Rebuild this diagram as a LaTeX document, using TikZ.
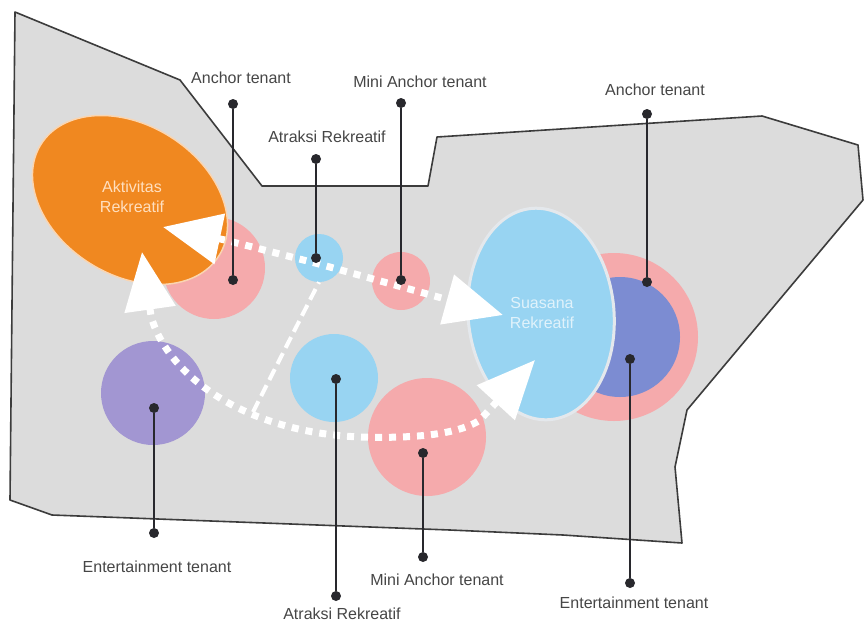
\documentclass[tikz,border=0pt]{standalone}
\usepackage{fontspec}
\setmainfont{Liberation Sans}
\usetikzlibrary{shapes.geometric, arrows.meta}
\definecolor{site}{RGB}{220,220,220}
\definecolor{edge}{RGB}{60,60,60}
\definecolor{oranye}{RGB}{240,136,32}
\definecolor{pinky}{RGB}{245,170,172}
\definecolor{skyblue}{RGB}{152,212,242}
\definecolor{ungu}{RGB}{162,150,210}
\definecolor{biru}{RGB}{124,140,210}
\definecolor{ink}{RGB}{40,40,45}
\definecolor{labelgray}{RGB}{70,70,70}
\definecolor{halo}{RGB}{228,232,236}
\tikzset{
x=1pt, y=-1pt, % pixel-like units, y grows downwards
zone/.style={circle, inner sep=0pt}, % the coloured zones
pin/.style={circle, fill=ink, inner sep=0pt, minimum size=10pt}, % the black dots
lead/.style={ink, line width=1.6pt}, % leader lines
tag/.style={text=labelgray, font=\fontsize{16}{19}\selectfont}, % outside labels
intag/.style={align=center, font=\fontsize{16}{20}\selectfont}, % labels inside the big zones
flow/.style={white, line width=7pt, dash pattern=on 7pt off 7pt,
  {Triangle[length=58pt,width=50pt]}-{Triangle[length=58pt,width=50pt]}}, % dotted circulation
branch/.style={white, line width=4pt, dash pattern=on 12pt off 6pt}, % dashed link
}

\begin{document}
\begin{tikzpicture}
    \fill[white] (0,0) rectangle (864,625);
    \useasboundingbox (0,0) rectangle (864,625);
    % site outline
    \draw[fill=site, draw=edge, line width=1.6pt, line join=round]
      (15,12) -- (180,80) -- (262,186) -- (428,186) -- (437,137) -- (762,116)
      -- (858,145) -- (863,200) -- (687,410) -- (675,467) -- (682,543)
      -- (563,535) -- (450,530) -- (52,515) -- (10,500) -- cycle;

    % zones
    \node[zone, fill=pinky, minimum size=168pt] (ring) at (614,337) {};
    \node[zone, fill=biru, minimum size=120pt] (anc2) at (620,337) {};
    \node[ellipse, fill=skyblue, draw=halo, line width=3pt,
      minimum width=146pt, minimum height=212pt, rotate=5] (suasana) at (541,314) {};
    \node[zone, fill=pinky, minimum size=102pt] (anc1) at (214,268) {};
    \node[ellipse, fill=oranye, draw=oranye!35!white, line width=1.5pt,
      minimum width=210pt, minimum height=150pt, rotate=-32] (aktiv) at (130,200) {};
    \node[zone, fill=ungu, minimum size=104pt] (ent1) at (153,393) {};
    \node[zone, fill=skyblue, minimum size=48pt] (atr1) at (319,258) {};
    \node[zone, fill=pinky, minimum size=58pt] (mini1) at (401,281) {};
    \node[zone, fill=skyblue, minimum size=88pt] (atr2) at (334,378) {};
    \node[zone, fill=pinky, minimum size=118pt] (mini2) at (427,437) {};

    \node[intag, text=orange!25!white] (aktivtxt) at (132,197) {Aktivitas\\Rekreatif};
    \node[intag, text=skyblue!30!white] (suasanatxt) at (542,313) {Suasana\\Rekreatif};

    % circulation
    \coordinate (tipA) at (163,227);
    \coordinate (tipB) at (503,315);
    \coordinate (tipC) at (142,252);
    \coordinate (tipD) at (535,360);
    \coordinate (fork) at (253,412);
    \draw[branch] (fork) -- (atr1.south);
    \draw[flow] (tipA) -- (225,240) -- (319,264) -- (tipB);
    \draw[flow] (tipC) -- (151,316) .. controls (166,372) and (240,432) .. (360,437)
      .. controls (425,439) and (462,432) .. (480,420) -- (tipD);

    % leaders
    \node[pin] (p1) at (233,104) {};
    \node[pin] (q1) at (233,280) {};
    \node[pin] (p2) at (316,159) {};
    \node[pin] (q2) at (316,258) {};
    \node[pin] (p3) at (401,103) {};
    \node[pin] (q3) at (401,280) {};
    \node[pin] (p4) at (647,114) {};
    \node[pin] (q4) at (647,282) {};
    \node[pin] (p5) at (154,533) {};
    \node[pin] (q5) at (154,408) {};
    \node[pin] (p6) at (336,596) {};
    \node[pin] (q6) at (336,379) {};
    \node[pin] (p7) at (423,557) {};
    \node[pin] (q7) at (423,453) {};
    \node[pin] (p8) at (630,583) {};
    \node[pin] (q8) at (630,359) {};
    \draw[lead] (p1) -- (q1);
    \draw[lead] (p2) -- (q2);
    \draw[lead] (p3) -- (q3);
    \draw[lead] (p4) -- (q4);
    \draw[lead] (p5) -- (q5);
    \draw[lead] (p6) -- (q6);
    \draw[lead] (p7) -- (q7);
    \draw[lead] (p8) -- (q8);

    \node[tag] (t1) at (241,78) {Anchor tenant};
    \node[tag] (t2) at (327,137) {Atraksi Rekreatif};
    \node[tag] (t3) at (420,82) {Mini Anchor tenant};
    \node[tag] (t4) at (655,90) {Anchor tenant};
    \node[tag] (t5) at (157,567) {Entertainment tenant};
    \node[tag] (t6) at (342,614) {Atraksi Rekreatif};
    \node[tag] (t7) at (437,580) {Mini Anchor tenant};
    \node[tag] (t8) at (634,603) {Entertainment tenant};
\end{tikzpicture}
\end{document}
